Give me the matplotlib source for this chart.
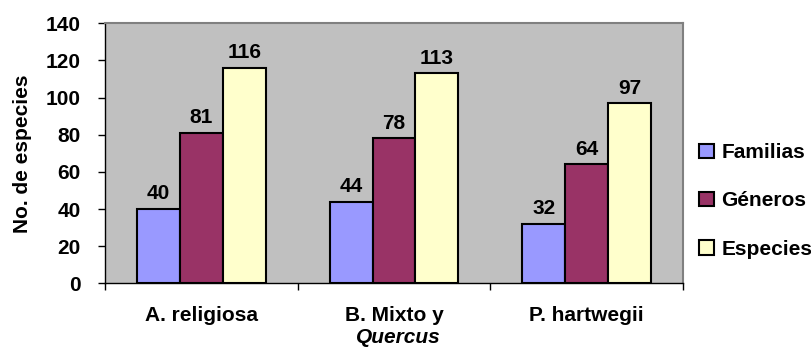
import matplotlib
matplotlib.use("Agg")
import matplotlib.pyplot as plt
import numpy as np
from matplotlib.ticker import MultipleLocator, FixedLocator

plt.rcParams['font.family'] = ['Liberation Sans', 'DejaVu Sans']
plt.rcParams['font.weight'] = 'bold'

categories = ["A. religiosa", "B. Mixto y", "P. hartwegii"]
category_italic = ["", "Quercus", ""]
series_names = ["Familias", "Géneros", "Especies"]
familias = [40, 44, 32]
generos = [81, 78, 64]
especies = [116, 113, 97]
colors = ["#9999FF", "#993366", "#FFFFCC"]

fig = plt.figure(figsize=(8.11, 3.47), dpi=100)
ax = fig.add_axes([105 / 811, 1 - 283.3 / 347, (683 - 105) / 811, (283.3 - 23.3) / 347])
ax.set_facecolor("#C0C0C0")

x = np.arange(len(categories))
width = 0.223
fs = 15

for i, (vals, name, col) in enumerate(zip([familias, generos, especies], series_names, colors)):
    bars = ax.bar(x + (i - 1) * width, vals, width, color=col, edgecolor="black",
                  linewidth=1.5, label=name, zorder=3)
    for b, v in zip(bars, vals):
        ax.annotate(str(v), (b.get_x() + b.get_width() / 2, v), xytext=(0, 4),
                    textcoords="offset points", ha="center", va="bottom",
                    fontsize=fs, fontweight="bold")

ax.set_xlim(-0.5, 2.5)
ax.set_ylim(0, 140)
ax.yaxis.set_major_locator(MultipleLocator(20))
ax.tick_params(axis="y", direction="out", length=5, width=1, labelsize=fs, pad=12.5)

ax.set_xticks(x)
ax.set_xticklabels(categories, fontsize=fs, fontweight="bold")
ax.tick_params(axis="x", which="major", length=0, pad=16)
ax.xaxis.set_minor_locator(FixedLocator([-0.5, 0.5, 1.5, 2.5]))
ax.tick_params(axis="x", which="minor", direction="out", length=5, width=1)

for xi, it in zip(x, category_italic):
    if it:
        ax.annotate(it, (xi, 0), xycoords=("data", "axes fraction"), xytext=(3, -32),
                    textcoords="offset points", ha="center", va="top",
                    fontsize=fs, fontweight="bold", fontstyle="italic")

for side in ["top", "right"]:
    ax.spines[side].set_color("#808080")
    ax.spines[side].set_linewidth(1.5)
for side in ["left", "bottom"]:
    ax.spines[side].set_color("black")
    ax.spines[side].set_linewidth(1)

ax.set_ylabel("No. de especies", fontsize=fs, fontweight="bold", labelpad=10)

fig.legend(loc="center left", bbox_to_anchor=(689 / 811, 1 - 201 / 347), frameon=False,
           prop={"weight": "bold", "size": fs}, borderpad=0,
           handlelength=0.7, handleheight=0.7, handletextpad=0.35, labelspacing=1.4)

fig.savefig("out.png", dpi=100)
